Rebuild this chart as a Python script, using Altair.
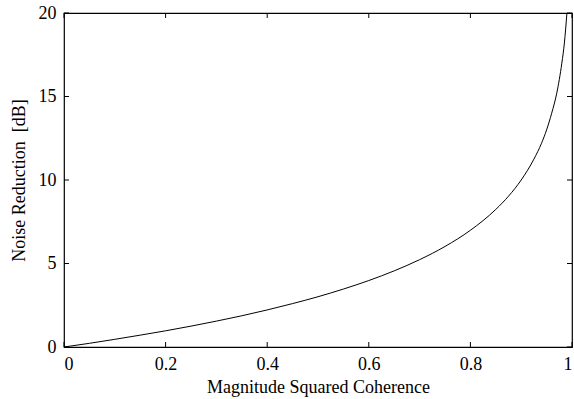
import altair as alt
import pandas as pd

# Curve values
coherence = [0.0, 0.05, 0.10, 0.15, 0.20, 0.25, 0.30, 0.35, 0.40, 0.45, 0.50,
             0.55, 0.60, 0.65, 0.70, 0.75, 0.80, 0.85, 0.875, 0.90, 0.925,
             0.94, 0.95, 0.96, 0.97, 0.98, 0.985, 0.99]
noise_red = [0.0, 0.22, 0.46, 0.71, 0.97, 1.25, 1.55, 1.87, 2.22, 2.60, 3.01,
             3.47, 3.98, 4.56, 5.23, 6.02, 6.99, 8.24, 9.03, 10.0, 11.25,
             12.2, 13.0, 14.0, 15.2, 17.0, 18.2, 20.0]

x_ticks = [0, 0.2, 0.4, 0.6, 0.8, 1]
y_ticks = [0, 5, 10, 15, 20]

W, H = 508, 334
FONT = "'Liberation Serif', 'Times New Roman', 'DejaVu Serif', serif"

df = pd.DataFrame({"x": coherence, "y": noise_red})
xt = pd.DataFrame({"x": x_ticks})
yt = pd.DataFrame({"y": y_ticks})

xs = alt.Scale(domain=[0, 1], nice=False, zero=False)
ys = alt.Scale(domain=[0, 20], nice=False, zero=False)

line = alt.Chart(df).mark_line(color="black", strokeWidth=1, clip=True,
                               interpolate="monotone").encode(
    x=alt.X("x:Q", scale=xs,
            axis=alt.Axis(values=x_ticks, title="Magnitude Squared Coherence",
                          labelExpr="datum.value == 0 ? '0' : datum.value == 1 ? '1' : format(datum.value, '.1f')")),
    y=alt.Y("y:Q", scale=ys,
            axis=alt.Axis(values=y_ticks, title="Noise Reduction\u00a0 [dB]")),
)

tb = alt.Chart(xt).mark_rule(color="black", strokeWidth=1).encode(
    x=alt.X("x:Q", scale=xs), y=alt.value(H), y2=alt.value(H - 5))
tt = alt.Chart(xt).mark_rule(color="black", strokeWidth=1).encode(
    x=alt.X("x:Q", scale=xs), y=alt.value(0), y2=alt.value(5))
tl = alt.Chart(yt).mark_rule(color="black", strokeWidth=1).encode(
    y=alt.Y("y:Q", scale=ys), x=alt.value(0), x2=alt.value(5))
tr = alt.Chart(yt).mark_rule(color="black", strokeWidth=1).encode(
    y=alt.Y("y:Q", scale=ys), x=alt.value(W), x2=alt.value(W - 5))

chart = alt.layer(line, tb, tt, tl, tr).properties(
    width=W, height=H,
    autosize=alt.AutoSizeParams(type="none"),
    padding={"left": 64, "top": 13, "right": 2, "bottom": 52},
    background="white",
).configure_view(
    stroke="black", strokeWidth=1.2
).configure_axis(
    domain=False, grid=False, ticks=False,
    labelFont=FONT, titleFont=FONT, labelFontSize=18, titleFontSize=18,
    labelColor="black", titleColor="black", titleFontWeight="normal",
).configure_axisX(
    labelPadding=8, titlePadding=5,
).configure_axisY(
    labelPadding=8, titlePadding=10,
)

chart.save("out.html", embed_options={"renderer": "svg", "actions": False})
